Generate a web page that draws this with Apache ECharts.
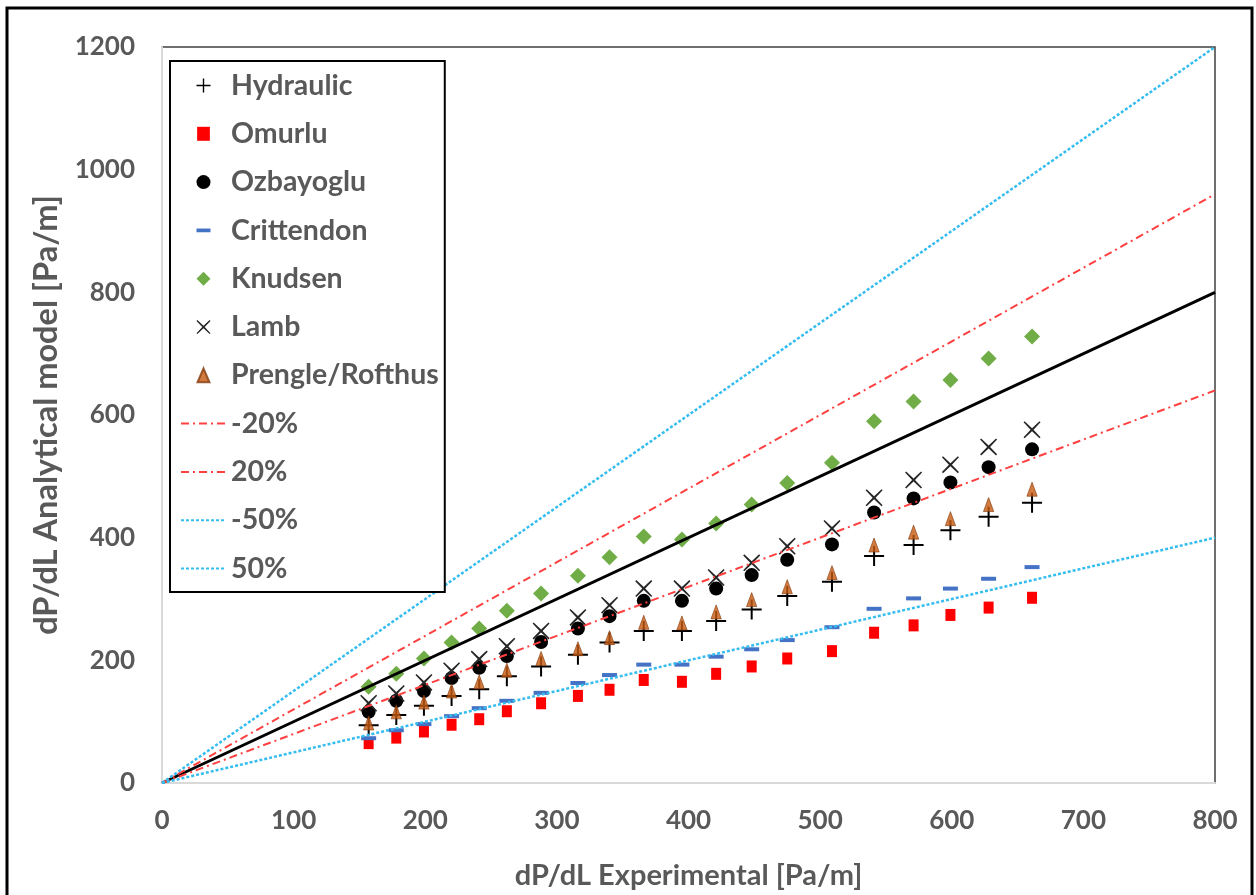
<!DOCTYPE html>
<html>
<head>
<meta charset="utf-8">
<script src="https://cdn.jsdelivr.net/npm/echarts@6/dist/echarts.min.js"></script>
<style>
  html, body { margin: 0; padding: 0; background: #fff; }
  #chart { width: 1256px; height: 895px; }
</style>
</head>
<body>
<div id="chart"></div>
<script>
// Measured pressure gradient (x) and model predictions (y), Pa/m
const expX = [157, 178, 199, 220, 241, 262, 288, 316, 340, 366, 395, 421, 448, 475, 509, 541, 571, 599, 628, 661];
const hydraulic  = [94, 111, 126, 142, 153, 174, 190, 209, 229, 248, 248, 264, 283, 305, 328, 370, 388, 412, 434, 457];
const omurlu     = [65, 74, 84, 95, 104, 117, 130, 142, 152, 168, 165, 178, 190, 203, 215, 245, 257, 274, 286, 302];
const ozbayoglu  = [116, 134, 150, 171, 188, 207, 230, 252, 272, 297, 297, 317, 339, 364, 389, 441, 464, 490, 515, 544];
const crittendon = [73, 86, 96, 109, 122, 134, 147, 163, 176, 193, 193, 206, 218, 233, 254, 284, 301, 317, 333, 352];
const knudsen    = [157, 178, 203, 229, 252, 281, 309, 338, 368, 402, 397, 423, 454, 489, 522, 590, 622, 657, 692, 728];
const lamb       = [130, 146, 164, 183, 202, 223, 248, 270, 290, 317, 317, 335, 359, 386, 415, 465, 494, 519, 548, 576];
const prengle    = [98, 116, 132, 150, 165, 184, 203, 219, 237, 262, 261, 279, 299, 320, 343, 388, 409, 431, 454, 479];

// Reference lines: end points at x = 0 and x = 800
const refX      = [0, 800];
const perfect   = [0, 800];
const minus20   = [0, 640];
const plus20    = [0, 960];
const minus50   = [0, 400];
const plus50    = [0, 1200];

const xTicks = [0, 100, 200, 300, 400, 500, 600, 700, 800];
const yTicks = [0, 200, 400, 600, 800, 1000, 1200];

const pair = (xs, ys) => xs.map((x, i) => [x, ys[i]]);

const FONT = 'Lato, "Open Sans", sans-serif';
const TXT = '#595959';

const SYM = {
  plus: 'path://M9,0h2v9h9v2h-9v9h-2v-9h-9v-2h9z',
  square: 'path://M0,0h10v11h-10z',
  // short bar inside a square frame of empty moves, so the legend icon keeps its proportions
  dash: 'path://M0,-5.5M0,0h15v4h-15zM0,9.5',
  diamond: 'path://M8,0L16,8L8,16L0,8Z',
  cross: 'path://M1,0L8,6.6L15,0L16,1L9.4,8L16,15L15,16L8,9.4L1,16L0,15L6.6,8L0,1Z',
  triangle: 'path://M6,0L12,14L0,14Z'
};

function scatter(name, ys, symbol, size, color, extra) {
  return Object.assign({
    name, type: 'scatter', data: pair(expX, ys),
    symbol, symbolSize: size, symbolKeepAspect: true,
    itemStyle: { color, opacity: 1 },
    emphasis: { disabled: true }
  }, extra || {});
}

// Dashed guide lines; the transparent item colour hides the legend's point marker
function refLine(name, ys, color, width, dash) {
  return {
    name, type: 'line', data: pair(refX, ys),
    symbol: 'none', silent: true,
    lineStyle: { color, width, type: dash },
    itemStyle: { color: 'rgba(0,0,0,0)', borderWidth: 0 },
    emphasis: { disabled: true }
  };
}

const chart = echarts.init(document.getElementById('chart'), null, { renderer: 'canvas' });

chart.setOption({
  backgroundColor: '#ffffff',
  animation: false,
  graphic: [{
    type: 'rect', z: 100, silent: true,
    shape: { x: 7, y: 8, width: 1245, height: 900 },
    style: { fill: 'none', stroke: '#000', lineWidth: 3 }
  }],
  grid: {
    left: 162, right: 41, top: 47, bottom: 111,
    show: true, borderColor: '#404040', borderWidth: 1.5, backgroundColor: '#fff'
  },
  legend: {
    orient: 'vertical', left: 170, top: 61,
    padding: [10, 6, 9, 10],
    itemWidth: 45, itemHeight: 14, itemGap: 19.3,
    backgroundColor: '#fff', borderColor: '#000', borderWidth: 2,
    textStyle: { color: TXT, fontFamily: FONT, fontWeight: 'bold', fontSize: 28.5, lineHeight: 24 },
    data: ['Hydraulic', 'Omurlu', 'Ozbayoglu', 'Crittendon', 'Knudsen', 'Lamb',
           'Prengle/Rofthus', '-20%', '20%', '-50%', '50%'],
    selectedMode: false
  },
  xAxis: {
    type: 'value', min: 0, max: 800, interval: 100,
    name: 'dP/dL Experimental [Pa/m]', nameLocation: 'middle', nameGap: 78,
    nameTextStyle: { color: TXT, fontFamily: FONT, fontWeight: 'bold', fontSize: 29 },
    axisLine: { show: true, lineStyle: { color: '#d9d9d9', width: 2 } },
    axisTick: { show: false },
    splitLine: { show: false },
    axisLabel: {
      margin: 25, color: TXT, fontFamily: FONT, fontWeight: 'bold', fontSize: 26,
      formatter: v => xTicks.includes(v) ? String(v) : ''
    }
  },
  yAxis: {
    type: 'value', min: 0, max: 1200, interval: 200,
    name: 'dP/dL Analytical model [Pa/m]', nameLocation: 'middle', nameGap: 99,
    nameTextStyle: { color: TXT, fontFamily: FONT, fontWeight: 'bold', fontSize: 32.5 },
    axisLine: { show: true, lineStyle: { color: '#d9d9d9', width: 2 } },
    axisTick: { show: false },
    splitLine: { show: false },
    axisLabel: {
      margin: 27, color: TXT, fontFamily: FONT, fontWeight: 'bold', fontSize: 26,
      formatter: v => yTicks.includes(v) ? String(v) : ''
    }
  },
  series: [
    scatter('Hydraulic', hydraulic, SYM.plus, 20, '#000000'),
    scatter('Omurlu', omurlu, SYM.square, [11, 12], '#FF0000'),
    scatter('Ozbayoglu', ozbayoglu, 'circle', 14, '#000000'),
    scatter('Crittendon', crittendon, SYM.dash, 15, '#4472C4'),
    scatter('Knudsen', knudsen, SYM.diamond, 16, '#70AD47'),
    scatter('Lamb', lamb, SYM.cross, 17, '#262626'),
    scatter('Prengle/Rofthus', prengle, SYM.triangle, [12, 14], '#C55A11',
      { itemStyle: { color: '#C55A11', borderColor: '#843C0C', borderWidth: 0.8 } }),
    {
      name: '1:1', type: 'line', data: pair(refX, perfect), symbol: 'none', silent: true,
      lineStyle: { color: '#000', width: 3 }, emphasis: { disabled: true }
    },
    refLine('-20%', minus20, '#FF4040', 2, [8, 4, 2, 4]),
    refLine('20%', plus20, '#FF4040', 2, [8, 4, 2, 4]),
    refLine('-50%', minus50, '#35BDF0', 2.5, [3, 2]),
    refLine('50%', plus50, '#35BDF0', 2.5, [3, 2])
  ]
});
</script>
</body>
</html>
